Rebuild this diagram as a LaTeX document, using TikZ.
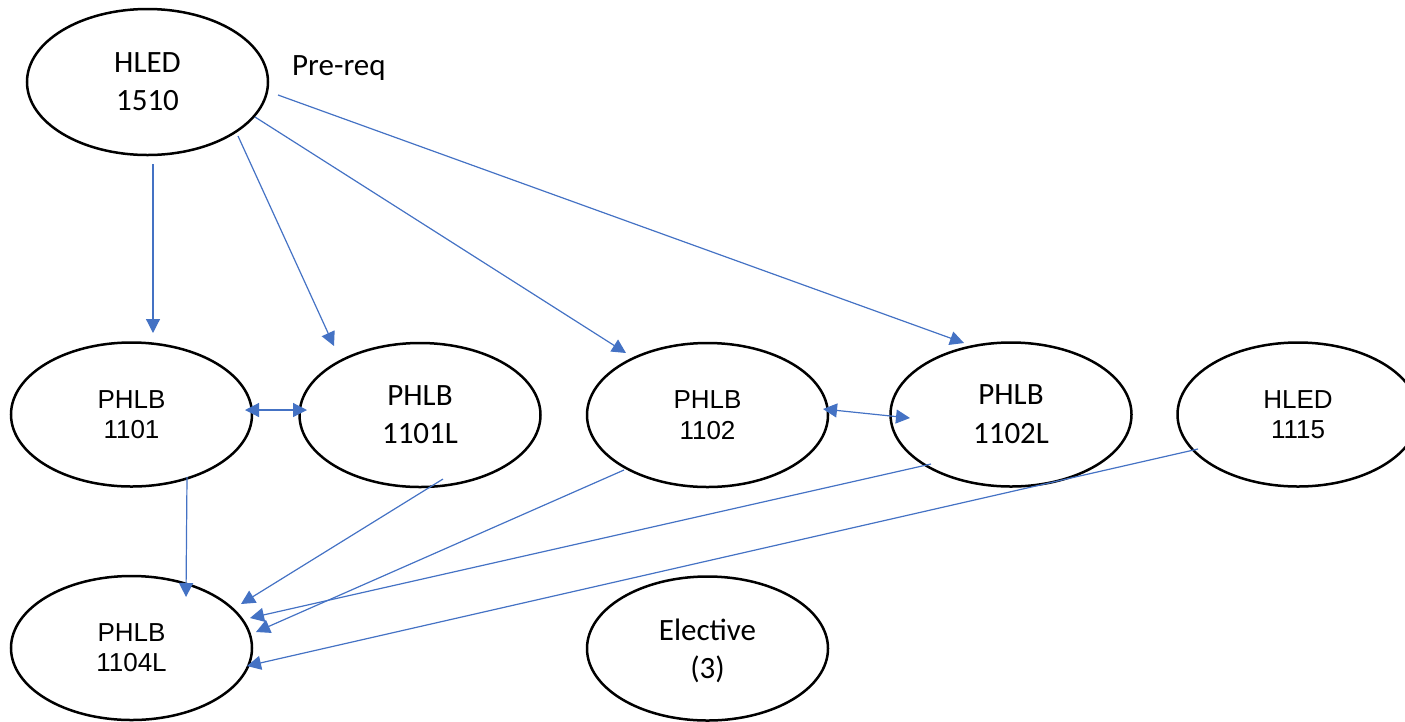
\documentclass[tikz,border=0pt]{standalone}
\usepackage{fontspec}
\setmainfont{Liberation Sans}
\newfontfamily\calfont{Carlito}
\usetikzlibrary{shapes.geometric,arrows.meta,calc}
\definecolor{arrowblue}{HTML}{4472C4}
\begin{document}
\begin{tikzpicture}[x=1pt,y=-1pt,
  course/.style={ellipse, draw=black, line width=2.5pt, minimum width=241pt, minimum height=144pt, inner sep=0pt, align=center},
  arialtxt/.style={font=\fontsize{26}{30}\selectfont},
  caltxt/.style={font=\calfont\fontsize{31}{38}\selectfont},
  ar/.style={draw=arrowblue, line width=1.2pt, -{Triangle[length=14pt,width=14pt]}},
  dar/.style={draw=arrowblue, line width=1.2pt, {Triangle[length=14pt,width=14pt]}-{Triangle[length=14pt,width=14pt]}}]
\useasboundingbox (0,0) rectangle (1405,721);
\node[course, caltxt, minimum height=146pt] (h1510) at (147.5,82) {HLED\\1510};
\node[caltxt, anchor=base west, inner sep=0pt] (prereq) at (292,75) {Pre-req};
\node[course, arialtxt] (p1101) at (131.5,414.5) {PHLB\\1101};
\node[course, caltxt] (p1101L) at (420,415) {PHLB\\1101L};
\node[course, arialtxt, font=\fontsize{26}{31}\selectfont] (p1102) at (707.5,415) {PHLB\\1102};
\node[course, caltxt, font=\calfont\fontsize{31}{39}\selectfont] (p1102L) at (1011,414.5) {PHLB\\1102L};
\node[course, arialtxt] (h1115) at (1298,414.5) {HLED\\1115};
\node[course, arialtxt] (p1104L) at (131.5,648) {PHLB\\1104L};
\node[course, caltxt] (elec) at (707.5,648.5) {Elective\\\smash{(3)}};
% from HLED 1510
\draw[ar] ($(h1510)+(5.5,82)$) -- ($(p1101)+(21.5,-81.5)$);
\draw[ar] ($(h1510)+(90.5,54)$) -- ($(p1101L)+(-86,-69)$);
\draw[ar] ($(h1510)+(107.5,35)$) -- ($(p1102)+(-81.5,-62)$);
\draw[ar] ($(h1510)+(130.5,13)$) -- ($(p1102L)+(-47,-71.5)$);
% co-requisites
\draw[dar] ($(p1101)+(113.5,-4.5)$) -- ($(p1101L)+(-113,-5)$);
\draw[dar] ($(p1102)+(115.5,-6)$) -- ($(p1102L)+(-101,3.5)$);
% to PHLB 1104L
\draw[ar] ($(p1101)+(55.5,62.5)$) -- ($(p1104L)+(54.5,-51)$);
\draw[ar] ($(p1101L)+(23,64)$) -- ($(p1104L)+(109.5,-44)$);
\draw[ar] ($(p1102)+(-83.5,55)$) -- ($(p1104L)+(124.5,-16)$);
\draw[ar] ($(p1102L)+(-80,49.5)$) -- ($(p1104L)+(118.5,-30)$);
\draw[ar] ($(h1115)+(-100,34.5)$) -- ($(p1104L)+(115.5,18)$);
\end{tikzpicture}
\end{document}
